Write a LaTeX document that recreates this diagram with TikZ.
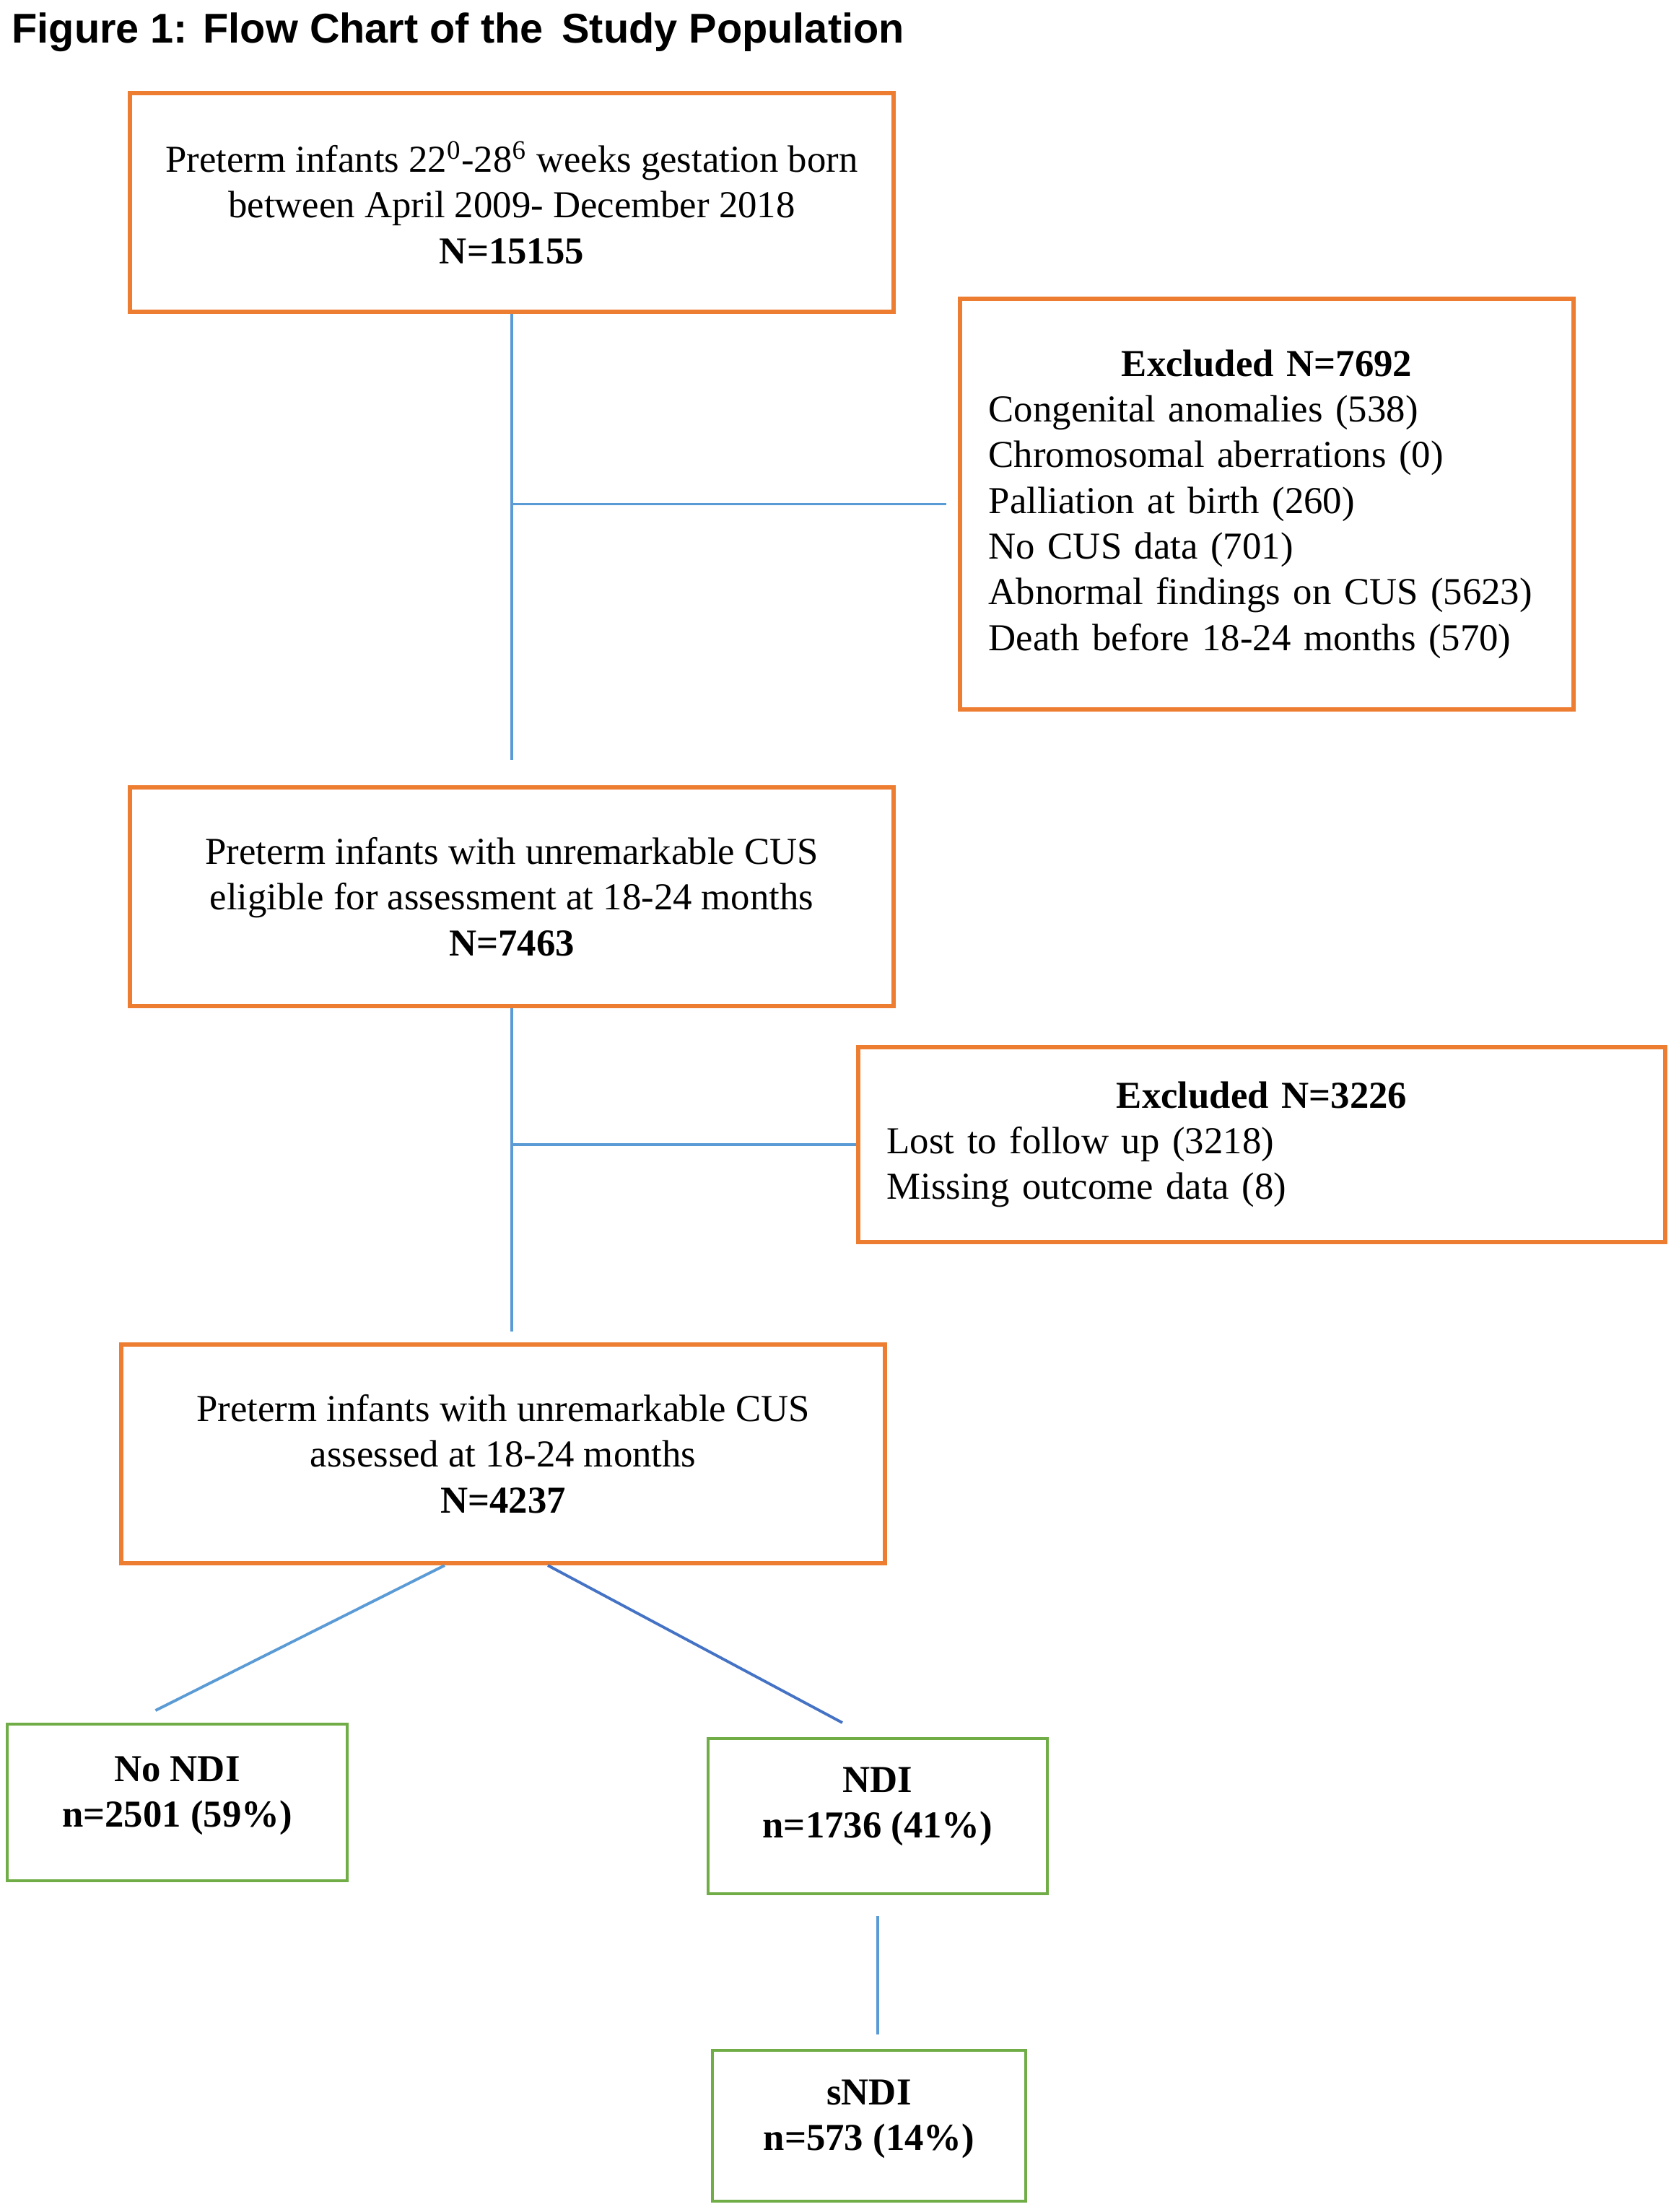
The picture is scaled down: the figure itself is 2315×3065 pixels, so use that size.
\documentclass[tikz,border=0pt]{standalone}
\usepackage{fontspec}
\setmainfont{Liberation Serif}
\newfontfamily\titlefont{Liberation Sans}
\usetikzlibrary{calc}

\definecolor{boxorange}{HTML}{ED7D31}
\definecolor{boxgreen}{HTML}{70AD47}
\definecolor{linkblue}{HTML}{5B9BD5}
\definecolor{linkdark}{HTML}{4472C4}
\newcommand{\boxfont}{\fontsize{15}{18}\selectfont}

\tikzset{
  orangebox/.style={draw=boxorange, line width=1.7pt, align=center, font=\boxfont, inner sep=0pt},
  exclbox/.style={orangebox, align=left, inner xsep=0.4cm},
  greenbox/.style={draw=boxgreen, line width=1.1pt, align=center, font=\boxfont\bfseries, inner sep=0pt},
  link/.style={draw=linkblue, line width=1.1pt},
}

\begin{document}
\begin{tikzpicture}[x=0.01cm, y=-0.01cm]
    \useasboundingbox (0,0) rectangle (2315,3065);

    % Title
    \node[anchor=west, font=\titlefont\bfseries\fontsize{16.4}{19}\selectfont, inner sep=0pt] (title) at (16,45)
        {Figure 1: Flow Chart of the\hspace{0.45em}Study Population};

    % Main column
    \node[orangebox, minimum width=10.58cm, minimum height=3.03cm] (start) at (709,280.5)
        {Preterm infants 22\textsuperscript{0}-28\textsuperscript{6} weeks gestation born\\
         between April 2009- December 2018\\ \textbf{N=15155}};
    \node[orangebox, minimum width=10.58cm, minimum height=3.03cm] (eligible) at (709,1242.5)
        {Preterm infants with unremarkable CUS\\ eligible for assessment at 18-24 months\\ \textbf{N=7463}};
    \node[orangebox, minimum width=10.58cm, minimum height=3.03cm] (assessed) at (697,2014.5)
        {Preterm infants with unremarkable CUS\\ assessed at 18-24 months\\ \textbf{N=4237}};

    % Exclusions
    \node[exclbox, minimum width=8.5cm, minimum height=5.69cm, text width=7.7cm] (excl1) at (1755,698.5)
        {\makebox[\linewidth][c]{\textbf{Excluded N=7692}}\\
         Congenital anomalies (538)\\ Chromosomal aberrations (0)\\ Palliation at birth (260)\\
         No CUS data (701)\\ Abnormal findings on CUS (5623)\\ Death before 18-24 months (570)};
    \node[exclbox, minimum width=11.18cm, minimum height=2.7cm, text width=10.38cm] (excl2) at (1748,1586)
        {\makebox[\linewidth][c]{\textbf{Excluded N=3226}}\\
         Lost to follow up (3218)\\ Missing outcome data (8)};

    % Outcomes (text sits a little above the middle)
    \node[greenbox, minimum width=4.71cm, minimum height=2.17cm] (nondi) at (245.5,2497.5)
        {No NDI\\ n=2501 (59\%)\rule[-0.3cm]{0pt}{0pt}};
    \node[greenbox, minimum width=4.7cm, minimum height=2.15cm] (ndi) at (1216,2516.5)
        {NDI\\ n=1736 (41\%)\rule[-0.38cm]{0pt}{0pt}};
    \node[greenbox, minimum width=4.34cm, minimum height=2.09cm] (sndi) at (1204,2945.5)
        {sNDI\\ n=573 (14\%)\rule[-0.3cm]{0pt}{0pt}};

    % Connectors
    \draw[link, shorten >=0.35cm] (start.south) -- (eligible.north);
    \draw[link, shorten >=0.16cm] (start.south |- excl1.west) -- (excl1.west);
    \draw[link, shorten >=0.15cm] (eligible.south) -- (eligible.south |- assessed.north);
    \draw[link] (eligible.south |- excl2.west) -- (excl2.west);
    \draw[link] ([xshift=-0.81cm]assessed.south) -- ([xshift=-0.3cm,yshift=0.17cm]nondi.north);
    \draw[link, draw=linkdark] ([xshift=0.62cm]assessed.south) -- ([xshift=-0.49cm,yshift=0.2cm]ndi.north);
    \draw[link, shorten <=0.29cm, shorten >=0.2cm] (ndi.south) -- (ndi.south |- sndi.north);
\end{tikzpicture}
\end{document}
